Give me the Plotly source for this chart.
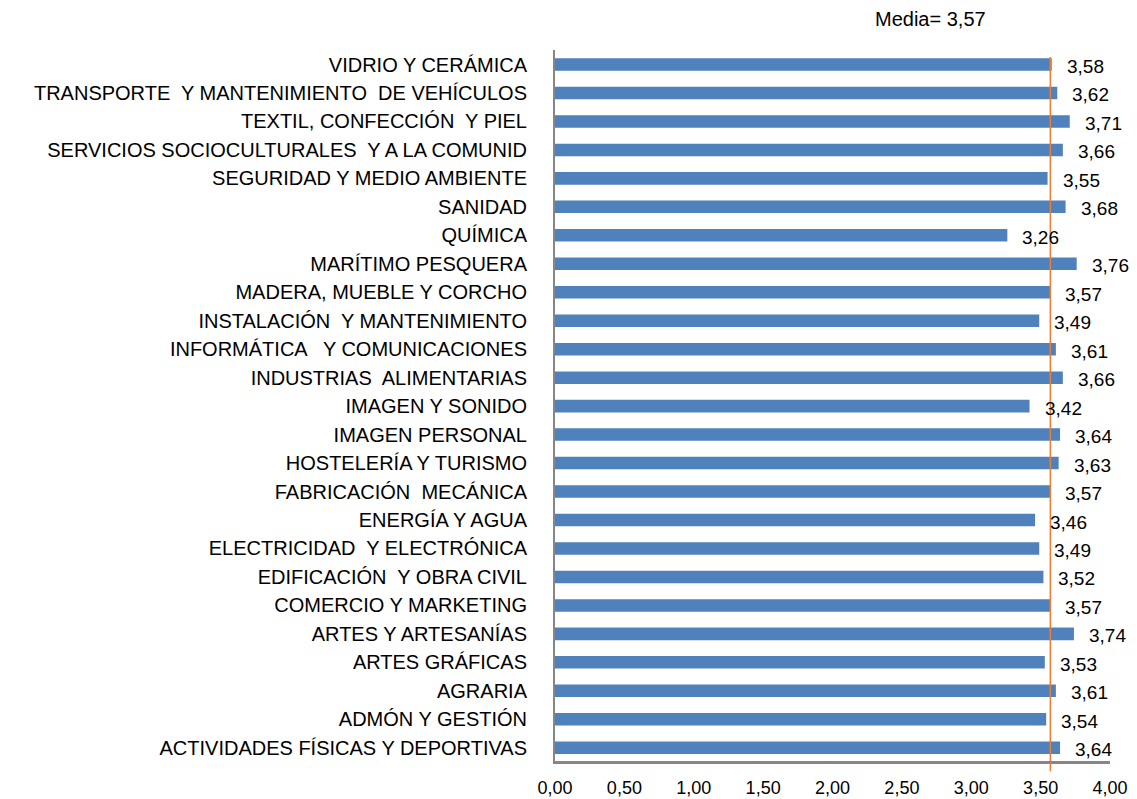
import plotly.graph_objects as go

# Familias profesionales (de arriba a abajo) y su valor medio
familias = [
    "VIDRIO Y CERÁMICA",
    "TRANSPORTE  Y MANTENIMIENTO  DE VEHÍCULOS",
    "TEXTIL, CONFECCIÓN  Y PIEL",
    "SERVICIOS SOCIOCULTURALES  Y A LA COMUNID",
    "SEGURIDAD Y MEDIO AMBIENTE",
    "SANIDAD",
    "QUÍMICA",
    "MARÍTIMO PESQUERA",
    "MADERA, MUEBLE Y CORCHO",
    "INSTALACIÓN  Y MANTENIMIENTO",
    "INFORMÁTICA   Y COMUNICACIONES",
    "INDUSTRIAS  ALIMENTARIAS",
    "IMAGEN Y SONIDO",
    "IMAGEN PERSONAL",
    "HOSTELERÍA Y TURISMO",
    "FABRICACIÓN  MECÁNICA",
    "ENERGÍA Y AGUA",
    "ELECTRICIDAD  Y ELECTRÓNICA",
    "EDIFICACIÓN  Y OBRA CIVIL",
    "COMERCIO Y MARKETING",
    "ARTES Y ARTESANÍAS",
    "ARTES GRÁFICAS",
    "AGRARIA",
    "ADMÓN Y GESTIÓN",
    "ACTIVIDADES FÍSICAS Y DEPORTIVAS",
]
valores = [3.58, 3.62, 3.71, 3.66, 3.55, 3.68, 3.26, 3.76, 3.57, 3.49,
           3.61, 3.66, 3.42, 3.64, 3.63, 3.57, 3.46, 3.49, 3.52, 3.57,
           3.74, 3.53, 3.61, 3.54, 3.64]
media = 3.57
ticks_x = [0, 0.5, 1, 1.5, 2, 2.5, 3, 3.5, 4]
ticks_x_txt = ["0,00", "0,50", "1,00", "1,50", "2,00", "2,50", "3,00", "3,50", "4,00"]

def coma(v):
    return f"{v:.2f}".replace(".", ",")

fuente = "Liberation Sans, Arial, sans-serif"

fig = go.Figure()
fig.add_trace(go.Bar(
    x=valores, y=familias, orientation="h",
    marker=dict(color="#4F81BD", line=dict(width=0)),
    hoverinfo="x+y",
))

# etiquetas de valor a la derecha de cada barra
for f, v in zip(familias, valores):
    fig.add_annotation(x=v, y=f, text=coma(v), showarrow=False,
                       xanchor="left", xshift=13, yshift=-2,
                       font=dict(family=fuente, size=19, color="#000000"))

# linea de la media
fig.add_shape(type="line", x0=media, x1=media, xref="x", yref="paper",
              y0=-0.013, y1=0.99, line=dict(color="#ED7D31", width=1.5))
fig.add_annotation(x=0.677, y=1.0435, xref="paper", yref="paper",
                   text="Media= " + coma(media), showarrow=False,
                   xanchor="center", yanchor="middle",
                   font=dict(family=fuente, size=20, color="#000000"))

# eje inferior (linea gris)
fig.add_shape(type="line", x0=0, x1=1, xref="paper", y0=0, y1=0, yref="paper",
              line=dict(color="#868686", width=2))

# el body de la pagina tiene 8px de margen, se descuentan aqui
fig.update_layout(
    width=1129, height=791,
    margin=dict(l=547, r=27, t=42, b=37),
    paper_bgcolor="white", plot_bgcolor="white",
    bargap=0.56, showlegend=False,
    font=dict(family=fuente, color="#000000"),
)
fig.update_xaxes(range=[0, 4], tickvals=ticks_x, ticktext=ticks_x_txt,
                 showgrid=False, zeroline=False, showline=True,
                 linecolor="#868686", linewidth=2, ticks="",
                 automargin=False,
                 ticklabelstandoff=8, tickfont=dict(size=18))
fig.update_yaxes(autorange="reversed", showgrid=False, showline=True,
                 linecolor="#868686", linewidth=2, ticks="",
                 automargin=False,
                 ticklabelstandoff=22, tickfont=dict(size=20))

fig.write_html("out.html")
